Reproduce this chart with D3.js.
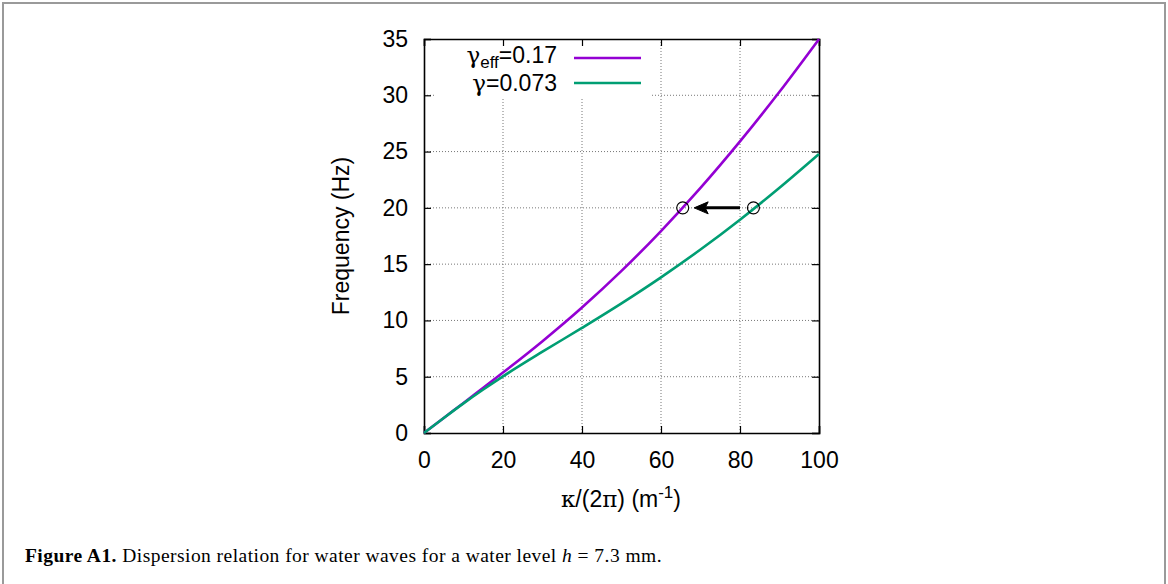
<!DOCTYPE html>
<html lang="en">
<head>
    <meta charset="UTF-8">
    <title>Dispersion relation</title>
    <script src="https://d3js.org/d3.v7.min.js"></script>
    <style>
        body { margin: 0; background: #fff; }
        svg { display: block; }
        .axis-text { font-family: "Liberation Sans", Arial, sans-serif; font-size: 23px; fill: #000; }
        tspan.sym { font-family: "DejaVu Serif", serif; }
        .grid line { stroke: #777; stroke-width: 1; stroke-dasharray: 1,2; }
        .caption { font-family: "Liberation Serif", "Times New Roman", serif; font-size: 19.5px; fill: #000; }
    </style>
</head>
<body>
<svg width="1168" height="584"></svg>
<script>
    // values
    const kappa      = [0, 5, 10, 15, 20, 30, 40, 50, 60, 70, 80, 90, 100];
    const freqEff    = [0, 1.34, 2.67, 4.02, 5.37, 8.16, 11.15, 14.40, 17.94, 21.77, 25.90, 30.31, 34.99];
    const freqGamma  = [0, 1.33, 2.63, 3.86, 5.03, 7.22, 9.34, 11.52, 13.83, 16.30, 18.95, 21.79, 24.79];
    const xTicks = [0, 20, 40, 60, 80, 100];
    const yTicks = [0, 5, 10, 15, 20, 25, 30, 35];
    const markerK = [65.5, 83.4];
    const markerF = [20, 20];
    const arrowK = [80.0, 68.4];   // tail -> tip
    const arrowF = 20;

    const svg = d3.select("svg");
    const pL = 424, pR = 819, pT = 39, pB = 433;

    const x = d3.scaleLinear().domain([0, 100]).range([pL, pR]);
    const y = d3.scaleLinear().domain([0, 35]).range([pB, pT]);

    // outer figure frame
    svg.append("rect")
        .attr("x", 3).attr("y", 3).attr("width", 1162).attr("height", 600)
        .attr("fill", "none").attr("stroke", "#9a9a9a").attr("stroke-width", 2);

    // grid
    const grid = svg.append("g").attr("class", "grid");
    grid.selectAll(".gx").data(xTicks.slice(1, -1)).enter().append("line")
        .attr("x1", d => x(d)).attr("x2", d => x(d))
        .attr("y1", pT).attr("y2", pB);
    grid.selectAll(".gy").data(yTicks.slice(1, -1)).enter().append("line")
        .attr("x1", pL).attr("x2", pR)
        .attr("y1", d => y(d)).attr("y2", d => y(d));

    // legend box hides the grid under it
    svg.append("rect")
        .attr("x", 436).attr("y", pT + 1).attr("width", 216).attr("height", 58)
        .attr("fill", "#fff");

    // axes with inward ticks on all sides
    const tl = 7;
    const xb = svg.append("g").attr("transform", `translate(0,${pB})`)
        .call(d3.axisBottom(x).tickValues(xTicks).tickSize(-tl));
    const xt = svg.append("g").attr("transform", `translate(0,${pT})`)
        .call(d3.axisTop(x).tickValues(xTicks).tickSize(-tl).tickFormat(""));
    const yl = svg.append("g").attr("transform", `translate(${pL},0)`)
        .call(d3.axisLeft(y).tickValues(yTicks).tickSize(-tl));
    const yr = svg.append("g").attr("transform", `translate(${pR},0)`)
        .call(d3.axisRight(y).tickValues(yTicks).tickSize(-tl).tickFormat(""));
    [xb, xt, yl, yr].forEach(g => {
        g.select(".domain").attr("stroke", "#000").attr("stroke-width", 1.6);
        g.selectAll(".tick line").attr("stroke", "#000").attr("stroke-width", 1.2);
        g.selectAll("text").attr("class", "axis-text");
        g.attr("font-size", null).attr("font-family", null);
    });
    xb.selectAll(".tick text").attr("dy", "0.71em").attr("y", 19);
    yl.selectAll(".tick text").attr("x", -16);

    // curves
    const line = d3.line().x(d => x(d[0])).y(d => y(d[1])).curve(d3.curveMonotoneX);
    const series = [
        { name: "eff", vals: freqEff, color: "#9400d3" },
        { name: "gam", vals: freqGamma, color: "#009e73" }
    ];
    svg.selectAll(".curve").data(series).enter().append("path")
        .attr("class", "curve")
        .attr("d", s => line(kappa.map((k, i) => [k, s.vals[i]])))
        .attr("fill", "none").attr("stroke", s => s.color).attr("stroke-width", 2.6);

    // open circles
    svg.selectAll(".mk").data(markerK).enter().append("circle")
        .attr("cx", d => x(d)).attr("cy", (d, i) => y(markerF[i])).attr("r", 6)
        .attr("fill", "none").attr("stroke", "#000").attr("stroke-width", 1.2);

    // arrow
    const ax0 = x(arrowK[0]), ax1 = x(arrowK[1]), ay = y(arrowF);
    svg.append("line")
        .attr("x1", ax0).attr("x2", ax1 + 10).attr("y1", ay).attr("y2", ay)
        .attr("stroke", "#000").attr("stroke-width", 3);
    svg.append("path")
        .attr("d", `M${ax1},${ay} L${ax1 + 14},${ay - 6} L${ax1 + 11},${ay} L${ax1 + 14},${ay + 6} Z`)
        .attr("fill", "#000").attr("stroke", "#000").attr("stroke-width", 1);

    // legend
    const leg = svg.append("g");
    const t1 = leg.append("text").attr("class", "axis-text").attr("x", 557).attr("y", 63).attr("text-anchor", "end");
    t1.append("tspan").attr("class", "sym").attr("font-size", "23px").text("\u03b3");
    t1.append("tspan").attr("font-size", "17px").attr("dy", 5).text("eff");
    t1.append("tspan").attr("dy", -5).text("=0.17");
    const t2 = leg.append("text").attr("class", "axis-text").attr("x", 557).attr("y", 91).attr("text-anchor", "end");
    t2.append("tspan").attr("class", "sym").attr("font-size", "23px").text("\u03b3");
    t2.append("tspan").text("=0.073");
    leg.selectAll(".ls").data(series).enter().append("line")
        .attr("x1", 574).attr("x2", 641)
        .attr("y1", (d, i) => 58 + i * 25).attr("y2", (d, i) => 58 + i * 25)
        .attr("stroke", d => d.color).attr("stroke-width", 2.6);

    // axis titles
    const xl = svg.append("text").attr("class", "axis-text").attr("x", 621).attr("y", 507).attr("text-anchor", "middle");
    xl.append("tspan").attr("class", "sym").text("\u03ba");
    xl.append("tspan").text("/(2");
    xl.append("tspan").attr("class", "sym").text("\u03c0");
    xl.append("tspan").text(") (m");
    xl.append("tspan").attr("font-size", "17px").attr("dy", -9).text("-1");
    xl.append("tspan").attr("dy", 9).text(")");

    svg.append("text").attr("class", "axis-text")
        .attr("transform", `translate(349,236) rotate(-90)`)
        .attr("text-anchor", "middle")
        .text("Frequency (Hz)");

    // caption, stretched to the width it has in the figure
    const cap = svg.append("text").attr("class", "caption").attr("x", 25).attr("y", 562);
    cap.append("tspan").attr("font-weight", "bold").text("Figure A1.");
    cap.append("tspan").text(" Dispersion relation for water waves for a water level ");
    cap.append("tspan").attr("font-style", "italic").text("h");
    cap.append("tspan").text(" = 7.3 mm.");
    const capW = cap.node().getComputedTextLength();
    const nChars = cap.text().length;
    cap.style("letter-spacing", ((637 - capW) / nChars) + "px");
</script>
</body>
</html>
